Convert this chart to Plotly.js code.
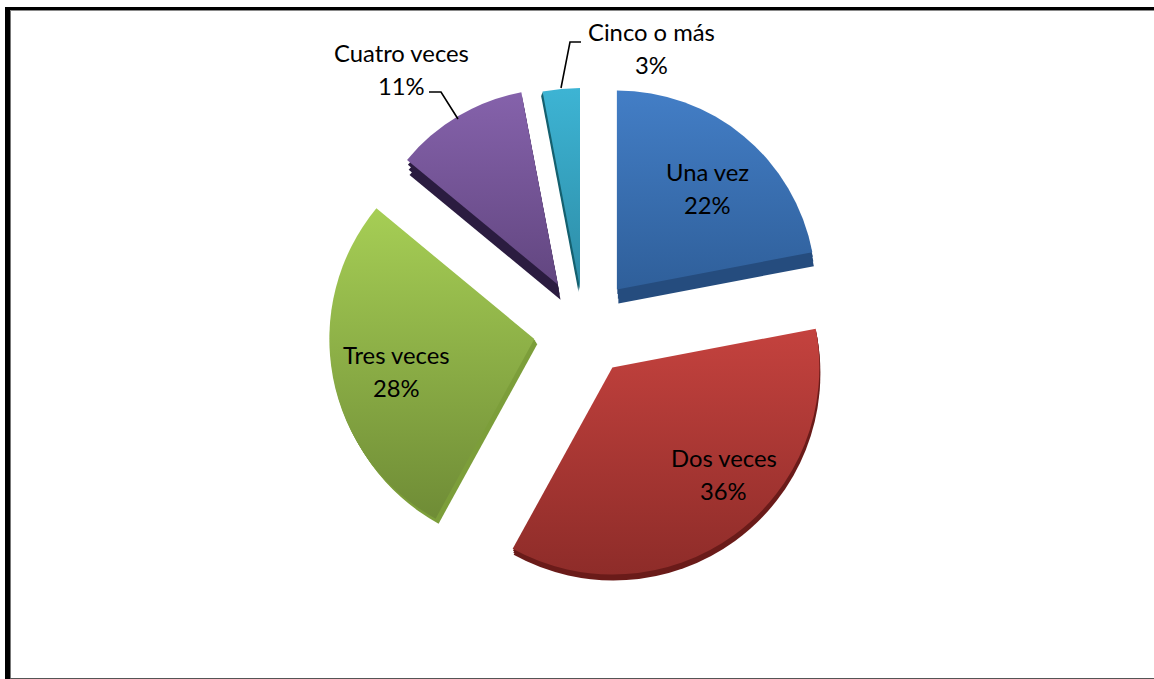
<!DOCTYPE html>
<html>
<head>
<meta charset="utf-8">
<script src="https://cdn.plot.ly/plotly-3.0.1.min.js"></script>
<style>html,body{margin:0;padding:0;background:#fff;overflow:hidden}#chart{width:1154px;height:679px}</style>
</head>
<body>
<div id="chart"></div>
<script>
var categories = ['Una vez', 'Dos veces', 'Tres veces', 'Cuatro veces', 'Cinco o más'];
var values = [22, 36, 28, 11, 3];
var colorsTop = ['#437EC6', '#C4423E', '#A6CE55', '#8562AB', '#3DB4D4'];
var colorsBottom = ['#2F5F9A', '#8E2C29', '#6F8C36', '#624680', '#2D8CA6'];
var colorsSide = ['#254C7E', '#6A1B19', '#7C9E3A', '#2B1C40', '#14606F'];
// per-slice drawing geometry in px, imitating the tilted, exploded look
var sliceCx = [585, 583, 581.5, 583, 583.7];
var sliceCy = [328, 327, 330, 327, 326.8];
var sliceRadius = [199, 207, 205, 196, 200];
var slicePull = [50, 50, 48, 49, 39];
var sideDx = [1.5, 1, 3, 2.5, -1.5];
var sideDy = [14, 6, 5, 15, 4];
var sideSteps = [0.33, 0.66, 1];
var labelPos = [[707.5,172,205],[723.5,458,491],[396,355,388],[401.5,53,86],[651.5,32,65]];

var W = 1154, H = 679;
function px(x){return x/W;}
function py(y){return 1-y/H;}
function sliceTrace(idx,color,dx,dy){
  var half = sliceRadius[idx]+slicePull[idx];
  var cx = sliceCx[idx]+dx, cy = sliceCy[idx]+dy;
  return {type:'pie',values:values,labels:categories,pull:slicePull[idx]/sliceRadius[idx],
    sort:false,direction:'clockwise',rotation:0,textinfo:'none',hoverinfo:'skip',showlegend:false,
    domain:{x:[px(cx-half),px(cx+half)],y:[py(cy+half),py(cy-half)]},
    marker:{colors:values.map(function(v,i){return i===idx?color:'rgba(0,0,0,0)';}),line:{width:0}}};
}
var traces = [];
categories.forEach(function(c,i){
  sideSteps.forEach(function(s){
    traces.push(sliceTrace(i,colorsSide[i],sideDx[i]*s,sideDy[i]*s));
  });
});
var firstTop = traces.length;
categories.forEach(function(c,i){ traces.push(sliceTrace(i,colorsTop[i],0,0)); });

var annotations = [];
categories.forEach(function(c,i){
  [c, values[i]+'%'].forEach(function(t,j){
    annotations.push({xref:'paper',yref:'paper',x:px(labelPos[i][0]),y:py(labelPos[i][j+1]),
      text:t,showarrow:false,xanchor:'center',yanchor:'middle',
      font:{family:'Lato, Carlito, sans-serif',size:23.8,color:'#000'}});
  });
});

function rect(x0,y0,x1,y1,c){
  return {type:'rect',xref:'paper',yref:'paper',x0:px(x0),x1:px(x1),y0:py(y0),y1:py(y1),fillcolor:c,line:{width:0},layer:'above'};
}
function leader(pts){
  var d = pts.map(function(p,i){return (i?'L':'M')+px(p[0])+','+py(p[1]);}).join(' ');
  return {type:'path',xref:'paper',yref:'paper',path:d,line:{color:'#000',width:1.6},layer:'above'};
}
var shapes = [
  rect(5,7,1154,10.3,'#000'), rect(10,10.3,1154,11,'#777'),
  rect(5,7,10,679,'#000'), rect(10,11,11,679,'#777'),
  rect(10,678,1154,679,'#555'),
  leader([[429,92],[441,92],[458,119]]),
  leader([[581,42],[570,42],[561,88]])
];

Plotly.newPlot('chart',traces,{
  width:W,height:H,margin:{l:0,r:0,t:0,b:0},paper_bgcolor:'#fff',
  annotations:annotations,shapes:shapes
},{displayModeBar:false,staticPlot:true}).then(function(gd){
  var svg = gd.querySelector('svg.main-svg');
  var NS = 'http://www.w3.org/2000/svg';
  var defs = svg.querySelector('defs');
  colorsTop.forEach(function(c,i){
    var g = document.createElementNS(NS,'linearGradient');
    g.setAttribute('id','sliceGrad'+i);
    g.setAttribute('x1','0');g.setAttribute('y1','0');g.setAttribute('x2','0');g.setAttribute('y2','1');
    [[0,c],[1,colorsBottom[i]]].forEach(function(s){
      var st = document.createElementNS(NS,'stop');
      st.setAttribute('offset',s[0]);st.setAttribute('stop-color',s[1]);g.appendChild(st);
    });
    defs.appendChild(g);
  });
  var tr = gd.querySelectorAll('g.trace');
  categories.forEach(function(c,i){
    var surf = tr[firstTop+i].querySelectorAll('g.slice path.surface');
    if(surf[i]) surf[i].style.fill = 'url(#sliceGrad'+i+')';
  });
});
</script>
</body>
</html>
